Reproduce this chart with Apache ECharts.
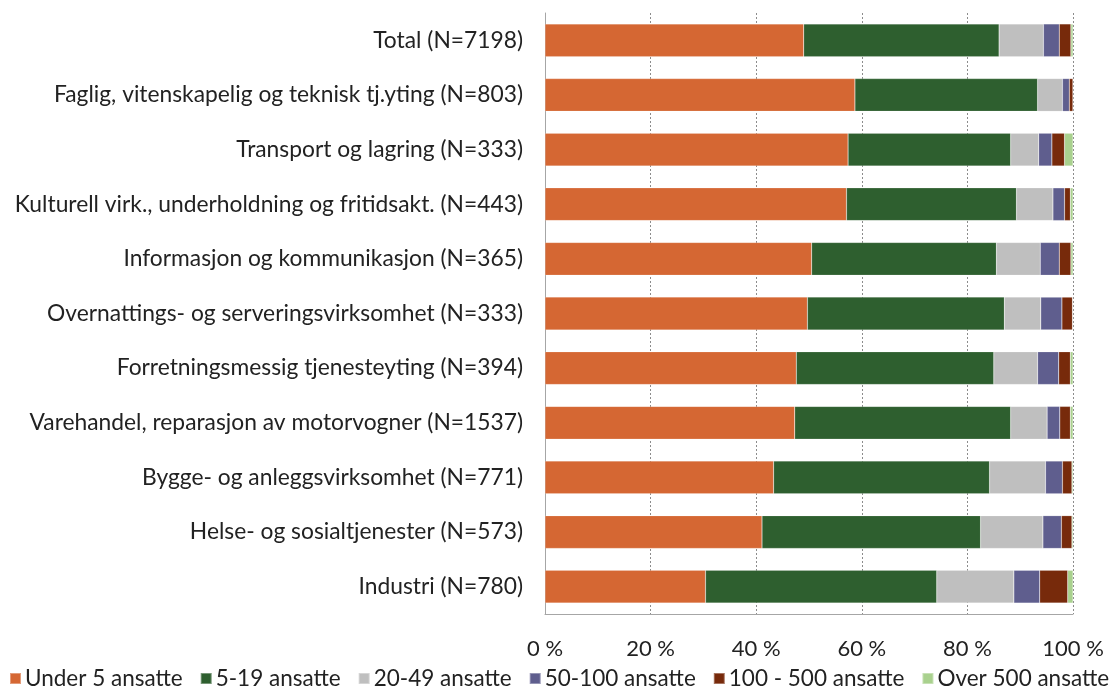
<!DOCTYPE html>
<html>
<head>
<meta charset="utf-8">
<script src="https://cdn.jsdelivr.net/npm/echarts@6/dist/echarts.min.js"></script>
<style>
  html, body { margin: 0; padding: 0; background: #fff; }
  #chart { width: 1116px; height: 691px; }
</style>
</head>
<body>
<div id="chart"></div>
<script>
const categories = [
  'Total (N=7198)',
  'Faglig, vitenskapelig og teknisk tj.yting (N=803)',
  'Transport og lagring (N=333)',
  'Kulturell virk., underholdning og fritidsakt. (N=443)',
  'Informasjon og kommunikasjon (N=365)',
  'Overnattings- og serveringsvirksomhet (N=333)',
  'Forretningsmessig tjenesteyting (N=394)',
  'Varehandel, reparasjon av motorvogner (N=1537)',
  'Bygge- og anleggsvirksomhet (N=771)',
  'Helse- og sosialtjenester (N=573)',
  'Industri (N=780)'
]

const under5 = [49.0, 58.7, 57.4, 57.1, 50.5, 49.7, 47.6, 47.3, 43.3, 41.1, 30.4]
const from5to19 = [37.0, 34.6, 30.8, 32.2, 35.0, 37.3, 37.4, 40.9, 40.9, 41.4, 43.8]
const from20to49 = [8.4, 4.7, 5.3, 6.9, 8.3, 6.9, 8.3, 6.9, 10.6, 11.8, 14.6]
const from50to100 = [3.0, 1.3, 2.5, 2.2, 3.6, 4.0, 4.0, 2.4, 3.2, 3.5, 4.9]
const from100to500 = [2.2, 0.7, 2.4, 1.1, 2.2, 2.0, 2.2, 2.0, 1.8, 2.0, 5.3]
const over500 = [0.4, 0.0, 1.6, 0.5, 0.4, 0.1, 0.5, 0.5, 0.2, 0.2, 1.0]

const xTicks = [0, 20, 40, 60, 80, 100]

const font = 'Lato, "Liberation Sans", sans-serif'
const textColor = '#222'

const seriesDefs = [
  { name: 'Under 5 ansatte', data: under5, color: '#D56733' },
  { name: '5-19 ansatte', data: from5to19, color: '#2E5F2F' },
  { name: '20-49 ansatte', data: from20to49, color: '#BFBFBF' },
  { name: '50-100 ansatte', data: from50to100, color: '#5F5E8E' },
  { name: '100 - 500 ansatte', data: from100to500, color: '#772A0B' },
  { name: 'Over 500 ansatte', data: over500, color: '#A9D18E' }
]

const chart = echarts.init(document.getElementById('chart'))

chart.setOption({
  animation: false,
  textStyle: { fontFamily: font },
  grid: { left: 545, right: 43, top: 13, bottom: 77, containLabel: false },
  legend: {
    bottom: -4,
    left: 4,
    itemWidth: 11,
    itemHeight: 11,
    itemGap: 17,
    icon: 'rect',
    textStyle: { fontSize: 22.5, color: textColor, fontFamily: font, padding: [0, 0, 0, -1] },
    data: seriesDefs.map(s => s.name)
  },
  xAxis: {
    type: 'value',
    min: 0,
    max: 100,
    interval: 20,
    axisLine: { show: true, lineStyle: { color: '#A6A6A6', width: 1 } },
    axisTick: { show: false },
    axisLabel: {
      fontSize: 22,
      color: textColor,
      margin: 24,
      formatter: v => xTicks.includes(v) ? v + ' %' : ''
    },
    splitLine: { show: true, lineStyle: { color: '#8C8C8C', type: [2, 2], width: 1 } }
  },
  yAxis: {
    type: 'category',
    inverse: true,
    data: categories,
    axisLine: { show: true, lineStyle: { color: '#A6A6A6', width: 1 } },
    axisTick: { show: false },
    axisLabel: { fontSize: 22.8, color: textColor, margin: 22 }
  },
  series: seriesDefs.map(s => ({
    name: s.name,
    type: 'bar',
    stack: 'total',
    barWidth: '60%',
    data: s.data,
    itemStyle: { color: s.color, borderColor: 'rgba(255,255,255,0.35)', borderWidth: 0.5 }
  }))
})
</script>
</body>
</html>
